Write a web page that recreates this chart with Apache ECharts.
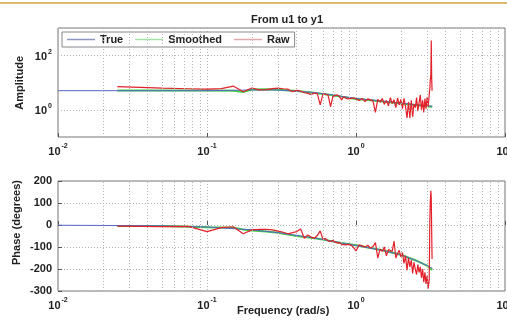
<!DOCTYPE html>
<html><head><meta charset="utf-8">
<script src="https://cdn.jsdelivr.net/npm/echarts@6/dist/echarts.min.js"></script>
<style>html,body{margin:0;padding:0;background:#fff}#c{width:507px;height:325px}</style>
</head><body><div id="c"></div>
<script>
const trueFreq = [0.01,0.02,0.05,0.1,0.2,0.3,0.5,0.7,1.0,1.5,2.0,2.5,3.0,3.25];
const trueAmp = [5.0,5.0,5.0,5.0,5.3,5.3,4.4,3.5,2.6,2.1,1.75,1.55,1.4,1.35];
const truePhase = [-1,-2,-4,-9,-22,-35,-57,-74,-93,-115,-136,-160,-185,-197];

const smoothFreq = [0.025,0.05,0.1,0.15,0.175,0.2,0.25,0.3,0.4,0.5,0.6,0.7,0.8,1.0,1.2,1.5,2.0,2.5,3.0,3.25];
const smoothAmp = [5.1,5.1,5.1,5.0,4.5,5.5,5.6,5.4,4.9,4.3,3.8,3.4,3.0,2.5,2.3,2.0,1.7,1.5,1.35,1.3];
const smoothPhase = [-4,-5,-10,-12,-20,-25,-30,-35,-50,-58,-66,-75,-82,-92,-102,-115,-135,-160,-185,-205];

const rawFreq = [0.025,0.05,0.075,0.1,0.125,0.15,0.175,0.2,0.225,0.25,0.275,0.3,0.325,0.35,0.375,0.4,0.425,0.45,0.475,0.5,
  0.525,0.55,0.575,0.6,0.625,0.65,0.675,0.7,0.725,0.75,0.775,0.8,0.825,0.85,0.875,0.9,0.925,0.95,0.975,1.0,
  1.05,1.1,1.15,1.2,1.25,1.3,1.35,1.4,1.45,1.5,1.55,1.6,1.65,1.7,1.75,1.8,1.85,1.9,1.95,2.0,
  2.05,2.1,2.15,2.2,2.25,2.3,2.35,2.4,2.45,2.5,2.55,2.6,2.65,2.7,2.75,2.8,2.85,2.9,2.95,3.0,
  3.05,3.1,3.13,3.15,3.18,3.2,3.22,3.24];
const rawAmp = [7.0,6.2,5.9,5.7,6.0,7.4,4.6,6.3,5.4,5.5,6.0,6.2,5.9,5.7,4.6,5.2,4.8,4.2,4.0,3.6,
  4.1,3.9,1.5,3.8,3.7,3.4,1.3,3.1,3.3,3.5,3.0,2.3,3.0,2.8,2.5,2.9,2.6,2.4,2.7,2.4,
  2.2,2.6,2.0,2.5,2.3,2.1,0.8,2.4,1.9,2.6,1.6,2.2,1.4,2.8,1.7,2.3,1.2,2.7,1.5,2.4,
  1.1,2.6,1.3,0.5,1.9,0.5,2.2,0.55,1.6,1.2,2.8,0.9,1.8,3.5,1.0,2.2,0.8,2.6,1.1,2.9,
  1.3,3.5,6,12,20,350,15,5];
const rawPhase = [-5,-7,-6,-30,-12,-8,-40,-22,-20,-20,-22,-28,-33,-40,-35,-30,-18,-60,-45,-55,
  -60,-48,-27,-64,-62,-72,-75,-70,-78,-82,-80,-88,-84,-90,-92,-88,-95,-97,-93,-118,
  -90,-95,-100,-92,-105,-98,-80,-150,-110,-120,-100,-140,-112,-118,-120,-73,-150,-130,-115,-145,
  -125,-175,-140,-205,-150,-190,-160,-220,-170,-200,-225,-180,-215,-190,-240,-200,-260,-215,-268,-230,
  -290,-250,20,100,155,120,-20,-155];

const minorGridFreqs = [0.02,0.03,0.04,0.05,0.06,0.07,0.08,0.09,0.2,0.3,0.4,0.5,0.6,0.7,0.8,0.9,2,3,4,5,6,7,8,9];
const ampGridVals = [1,100];
const ampTickExps = {1:'0',100:'2'};

const pairs = (f, v) => f.map((x, i) => [x, v[i]]);
const FONT = 'Liberation Sans';
const gridStyle = {color:'#b4b4b4', type:[1,2], width:1};
const supRich = {
  b:{fontSize:11,fontWeight:'bold',fontFamily:FONT,color:'#222',lineHeight:14,verticalAlign:'bottom'},
  s:{fontSize:7,fontWeight:'bold',fontFamily:FONT,color:'#222',lineHeight:14,verticalAlign:'top',padding:[0,0,0,1]}
};
const xLabel = {
  fontFamily:FONT, margin:6,
  formatter: v => '{b|10}{s|' + Math.round(Math.log10(v)) + '}',
  rich: supRich, showMaxLabel:true, showMinLabel:true, hideOverlap:false
};
function xAxisDef(gi){
  return {type:'log', logBase:10, min:0.01, max:10, gridIndex:gi,
    axisLine:{show:false}, axisTick:{show:true, inside:true, length:4, lineStyle:{color:'#555'}},
    splitLine:{show:true, lineStyle:gridStyle}, axisLabel:xLabel};
}
function gridMarks(extraY){
  const d = minorGridFreqs.map(f => ({xAxis:f}));
  (extraY||[]).forEach(y => d.push({yAxis:y}));
  return {symbol:'none', silent:true, animation:false, label:{show:false},
    lineStyle:gridStyle, emphasis:{disabled:true}, data:d};
}
const trueColor = '#5566c8', smoothColor = '#3fd23f', rawColor = '#e4202a';

const option = {
  animation:false,
  backgroundColor:'#fff',
  title:{text:'From u1 to y1', left:282, top:9, textAlign:'center',
    textStyle:{fontFamily:FONT, fontSize:11, fontWeight:'bold', color:'#222'}},
  legend:{
    left:62, top:32, itemWidth:28, itemHeight:8, itemGap:12,
    backgroundColor:'#fff', borderColor:'#888', borderWidth:1, borderRadius:0, padding:[2,5,2,5],
    textStyle:{fontFamily:FONT, fontSize:11, fontWeight:'bold', color:'#222'},
    data:[
      {name:'True', icon:'path://M0,0 L28,0 L28,1.5 L0,1.5 Z', itemStyle:{color:'#8d98c0'}},
      {name:'Smoothed', icon:'path://M0,0 L28,0 L28,1.5 L0,1.5 Z', itemStyle:{color:'#a6e2a6'}},
      {name:'Raw', icon:'path://M0,0 L28,0 L28,1.5 L0,1.5 Z', itemStyle:{color:'#e6a8a8'}}
    ]
  },
  grid:[
    {left:58, right:2, top:28, height:109, show:true, borderColor:'#777', borderWidth:1, backgroundColor:'#fff', outerBoundsMode:'none', containLabel:false},
    {left:58, right:2, top:181, height:110, show:true, borderColor:'#777', borderWidth:1, backgroundColor:'#fff', outerBoundsMode:'none', containLabel:false}
  ],
  xAxis:[xAxisDef(0), xAxisDef(1)],
  yAxis:[
    {type:'log', logBase:10, min:0.1, max:1000, gridIndex:0,
      axisLine:{show:false}, axisTick:{show:false}, splitLine:{show:false},
      axisLabel:{fontFamily:FONT, margin:6, rich:supRich,
        formatter: v => { const k = Math.round(v*1000)/1000; return ampTickExps[k] !== undefined ? '{b|10}{s|' + ampTickExps[k] + '}' : ''; }}},
    {type:'value', min:-300, max:200, interval:100, gridIndex:1,
      axisLine:{show:false}, axisTick:{show:true, inside:true, length:4, lineStyle:{color:'#555'}},
      splitLine:{show:true, lineStyle:gridStyle},
      axisLabel:{fontFamily:FONT, fontSize:11, fontWeight:'bold', color:'#222', margin:6}}
  ],
  series:[
    {name:'gridTop', type:'line', xAxisIndex:0, yAxisIndex:0, data:[], z:1, markLine:gridMarks(ampGridVals)},
    {name:'gridBot', type:'line', xAxisIndex:1, yAxisIndex:1, data:[], z:1, markLine:gridMarks([])},
    {name:'Smoothed', type:'line', xAxisIndex:0, yAxisIndex:0, data:pairs(smoothFreq, smoothAmp), showSymbol:false, symbol:'none', lineStyle:{color:smoothColor, width:2}, itemStyle:{color:smoothColor}, z:2},
    {name:'True', type:'line', xAxisIndex:0, yAxisIndex:0, data:pairs(trueFreq, trueAmp), showSymbol:false, symbol:'none', lineStyle:{color:trueColor, width:1}, itemStyle:{color:trueColor}, z:3},
    {name:'Raw', type:'line', xAxisIndex:0, yAxisIndex:0, data:pairs(rawFreq, rawAmp), showSymbol:false, symbol:'none', lineStyle:{color:rawColor, width:1.2}, itemStyle:{color:rawColor}, z:4},
    {name:'Smoothed', type:'line', xAxisIndex:1, yAxisIndex:1, data:pairs(smoothFreq, smoothPhase), showSymbol:false, symbol:'none', lineStyle:{color:smoothColor, width:2}, itemStyle:{color:smoothColor}, z:2},
    {name:'True', type:'line', xAxisIndex:1, yAxisIndex:1, data:pairs(trueFreq, truePhase), showSymbol:false, symbol:'none', lineStyle:{color:trueColor, width:1}, itemStyle:{color:trueColor}, z:3},
    {name:'Raw', type:'line', xAxisIndex:1, yAxisIndex:1, data:pairs(rawFreq, rawPhase), showSymbol:false, symbol:'none', lineStyle:{color:rawColor, width:1.2}, itemStyle:{color:rawColor}, z:4}
  ],
  graphic:[
    {type:'rect', left:0, top:2, shape:{width:507, height:2}, style:{fill:'#dcbc6a'}, silent:true},
    {type:'text', left:14, top:56, rotation:Math.PI/2, style:{text:'Amplitude', font:'bold 11px "Liberation Sans"', fill:'#222'}},
    {type:'text', left:11, top:180, rotation:Math.PI/2, style:{text:'Phase (degrees)', font:'bold 11px "Liberation Sans"', fill:'#222'}},
    {type:'text', left:237, top:305, style:{text:'Frequency (rad/s)', font:'bold 11px "Liberation Sans"', fill:'#222'}}
  ]
};
const chart = echarts.init(document.getElementById('c'), null, {renderer:'canvas'});
chart.setOption(option);
</script></body></html>
